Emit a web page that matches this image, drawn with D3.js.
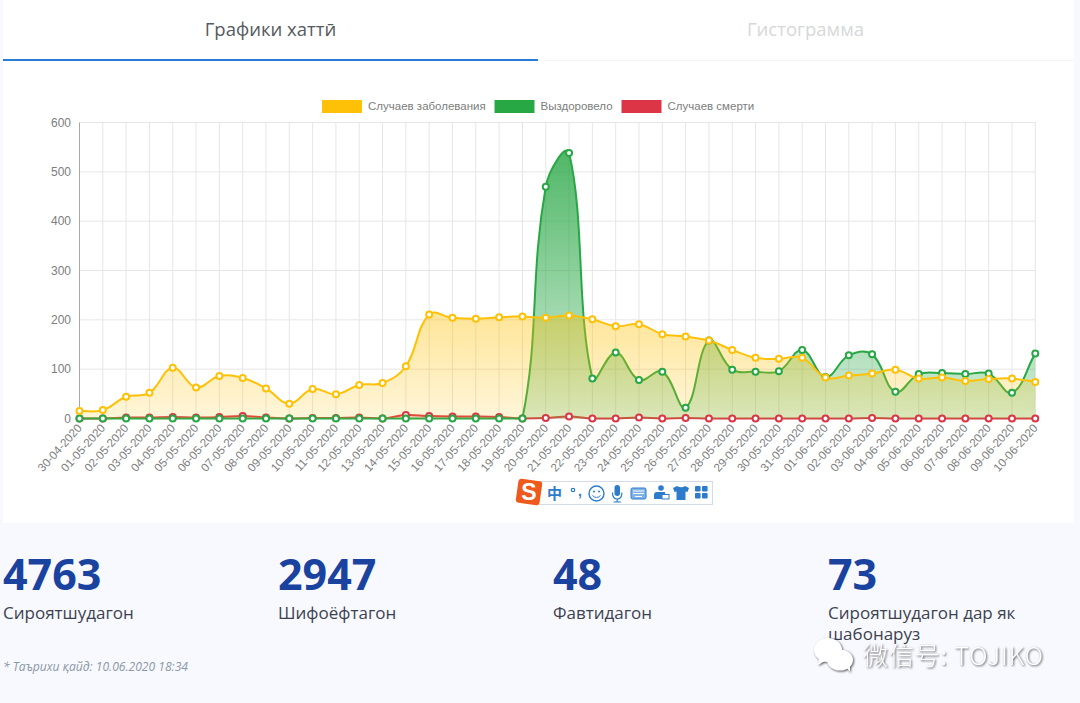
<!DOCTYPE html>
<html>
<head>
<meta charset="utf-8">
<script src="https://cdn.jsdelivr.net/npm/d3@7"></script>
<style>
  html, body { margin: 0; padding: 0; background: #f8f9ff; overflow: hidden; }
  svg { display: block; }
  .ui { font-family: "Open Sans", sans-serif; }
  .chartText { font-family: "Liberation Sans", Arial, sans-serif; fill: #7d7d7d; }
</style>
</head>
<body>
<div id="myGraph"></div>
<script>
var dates = ['30-04-2020','01-05-2020','02-05-2020','03-05-2020','04-05-2020','05-05-2020','06-05-2020',
  '07-05-2020','08-05-2020','09-05-2020','10-05-2020','11-05-2020','12-05-2020','13-05-2020','14-05-2020',
  '15-05-2020','16-05-2020','17-05-2020','18-05-2020','19-05-2020','20-05-2020','21-05-2020','22-05-2020',
  '23-05-2020','24-05-2020','25-05-2020','26-05-2020','27-05-2020','28-05-2020','29-05-2020','30-05-2020',
  '31-05-2020','01-06-2020','02-06-2020','03-06-2020','04-06-2020','05-06-2020','06-06-2020','07-06-2020',
  '08-06-2020','09-06-2020','10-06-2020'];
var cases = [15,17,44,52,103,63,86,82,61,30,60,49,68,72,106,211,204,202,205,207,204,209,201,187,191,171,166,158,139,123,121,123,83,87,91,99,81,83,76,80,81,74];
var recovered = [0,0,0,0,0,0,0,0,0,0,0,0,0,0,0,0,0,0,0,0,470,538,81,134,78,95,22,158,99,95,96,139,84,128,130,54,90,92,90,91,52,132];
var deaths = [0,0,2,2,3,2,3,5,2,0,1,1,2,0,7,5,4,4,3,0,1,4,0,0,2,0,1,0,0,0,0,0,0,0,1,0,0,0,0,0,0,0];
var yTicks = [0,100,200,300,400,500,600];
var legendLabels = ['Случаев заболевания','Выздоровело','Случаев смерти'];
var tabLabels = ['Графики хаттӣ','Гистограмма'];
var statValues = ['4763','2947','48','73'];
var statLabels = [['Сироятшудагон'],['Шифоёфтагон'],['Фавтидагон'],['Сироятшудагон дар як','шабонаруз']];
var footnote = '* Таърихи қайд: 10.06.2020 18:34';

var opts = {
  width: 1080, height: 703,
  left: 79.5, right: 1035.3, top: 122.5, bottom: 418.5
};

var svg = d3.select('#myGraph').append('svg')
  .attr('width', opts.width).attr('height', opts.height)
  .attr('viewBox', '0 0 ' + opts.width + ' ' + opts.height);

var x = d3.scalePoint().domain(dates).range([opts.left, opts.right]);
var y = d3.scaleLinear().domain([0, 600]).range([opts.bottom, opts.top]);

// same spline the original chart used: tension .4, control points kept inside the plot
function splineCurve(minY, maxY) {
  var t = 0.4;
  function Curve(context) { this._context = context; }
  Curve.prototype = {
    areaStart: function() { this._line = 0; },
    areaEnd: function() { this._line = NaN; },
    lineStart: function() { this._pts = []; },
    point: function(a, b) { this._pts.push([+a, +b]); },
    lineEnd: function() {
      var c = this._context, p = this._pts, n = p.length;
      var clampY = function(v) { return Math.max(minY, Math.min(maxY, v)); };
      if (this._line) c.lineTo(p[0][0], p[0][1]); else c.moveTo(p[0][0], p[0][1]);
      var ctrl = p.map(function(cur, i) {
        var prev = p[Math.max(i - 1, 0)], next = p[Math.min(i + 1, n - 1)];
        var d01 = Math.hypot(cur[0] - prev[0], cur[1] - prev[1]);
        var d12 = Math.hypot(next[0] - cur[0], next[1] - cur[1]);
        var s = d01 + d12 || 1;
        var fa = t * d01 / s, fb = t * d12 / s;
        return {
          px: cur[0] - fa * (next[0] - prev[0]), py: clampY(cur[1] - fa * (next[1] - prev[1])),
          nx: cur[0] + fb * (next[0] - prev[0]), ny: clampY(cur[1] + fb * (next[1] - prev[1]))
        };
      });
      for (var i = 1; i < n; i++) {
        c.bezierCurveTo(ctrl[i - 1].nx, ctrl[i - 1].ny, ctrl[i].px, ctrl[i].py, p[i][0], p[i][1]);
      }
      this._line = 1 - this._line;
    }
  };
  return function(context) { return new Curve(context); };
}

// page panels
svg.append('rect').attr('x', 3).attr('y', 0).attr('width', 1071).attr('height', 523).attr('fill', '#fff');

// tabs
svg.append('line').attr('x1', 538).attr('x2', 1074).attr('y1', 60.5).attr('y2', 60.5).attr('stroke', '#f3f5f8');
svg.append('rect').attr('x', 3).attr('y', 59).attr('width', 535).attr('height', 2).attr('fill', '#2a7bd6');
svg.selectAll('text.tab').data(tabLabels).enter().append('text')
  .attr('class', 'tab ui')
  .attr('x', function(d, i) { return i ? 805.5 : 270.5; })
  .attr('y', 35.5)
  .attr('text-anchor', 'middle')
  .attr('font-size', 18.5)
  .attr('fill', function(d, i) { return i ? '#d6d8da' : '#555a60'; })
  .text(function(d) { return d; });

// gradients, the fill fades toward the axis
var defs = svg.append('defs');
function gradient(id, color, a0, a1) {
  var g = defs.append('linearGradient').attr('id', id).attr('gradientUnits', 'userSpaceOnUse')
    .attr('x1', 0).attr('x2', 0).attr('y1', y(600)).attr('y2', y(0));
  g.append('stop').attr('offset', 0).attr('stop-color', color).attr('stop-opacity', a0);
  g.append('stop').attr('offset', 1).attr('stop-color', color).attr('stop-opacity', a1);
}
gradient('gradCases', '#ffc107', 0.9, 0.15);
gradient('gradRecovered', '#28a745', 0.88, 0.2);
gradient('gradDeaths', '#dc3545', 0.9, 0.2);

// grid
var grid = svg.append('g');
grid.selectAll('line.h').data(yTicks).enter().append('line')
  .attr('x1', opts.left).attr('x2', opts.right)
  .attr('y1', function(d) { return y(d); }).attr('y2', function(d) { return y(d); })
  .attr('stroke', '#e6e6e6');
grid.selectAll('line.v').data(dates).enter().append('line')
  .attr('y1', opts.top).attr('y2', opts.bottom)
  .attr('x1', function(d) { return x(d); }).attr('x2', function(d) { return x(d); })
  .attr('stroke', function(d, i) { return i ? '#e6e6e6' : '#a8a8a8'; });

// axis labels
svg.selectAll('text.yLab').data(yTicks).enter().append('text')
  .attr('class', 'chartText')
  .attr('x', 71)
  .attr('y', function(d) { return y(d) + 4; })
  .attr('text-anchor', 'end')
  .attr('font-size', 12)
  .text(function(d) { return d; });
svg.selectAll('text.xLab').data(dates).enter().append('text')
  .attr('class', 'chartText')
  .attr('text-anchor', 'end')
  .attr('font-size', 11.6)
  .attr('transform', function(d) { return 'translate(' + (x(d) + 3) + ',428.5) rotate(-48)'; })
  .text(function(d) { return d; });

// series, last dataset goes first so the cases stay on top
var curve = splineCurve(opts.top, opts.bottom);
var series = [
  { values: deaths, color: '#dc3545', fill: 'url(#gradDeaths)' },
  { values: recovered, color: '#28a745', fill: 'url(#gradRecovered)' },
  { values: cases, color: '#ffc107', fill: 'url(#gradCases)' }
];
var area = d3.area().x(function(d, i) { return x(dates[i]); }).y0(y(0)).y1(function(d) { return y(d); }).curve(curve);
var line = d3.line().x(function(d, i) { return x(dates[i]); }).y(function(d) { return y(d); }).curve(curve);

series.forEach(function(s) {
  var g = svg.append('g');
  g.append('path').attr('d', area(s.values)).attr('fill', s.fill);
  g.append('path').attr('d', line(s.values)).attr('fill', 'none').attr('stroke', s.color).attr('stroke-width', 2);
});
// points are painted after all of the lines, same order
series.forEach(function(s) {
  svg.append('g').selectAll('circle').data(s.values).enter().append('circle')
    .attr('cx', function(d, i) { return x(dates[i]); })
    .attr('cy', function(d) { return y(d); })
    .attr('r', 3)
    .attr('fill', '#fff')
    .attr('stroke', s.color)
    .attr('stroke-width', 2);
});

// legend
var legendColors = ['#ffc107', '#28a745', '#dc3545'];
var legendX = [322, 494.5, 621.5];
var legend = svg.selectAll('g.legend').data(legendLabels).enter().append('g')
  .attr('transform', function(d, i) { return 'translate(' + legendX[i] + ',100)'; });
legend.append('rect').attr('width', 40).attr('height', 13)
  .attr('fill', function(d, i) { return legendColors[i]; });
legend.append('text').attr('class', 'chartText')
  .attr('x', 46).attr('y', 10).attr('font-size', 11.5)
  .text(function(d) { return d; });

// stats row
var statX = [3, 278, 553, 828];
svg.selectAll('text.stat').data(statValues).enter().append('text')
  .attr('class', 'ui')
  .attr('x', function(d, i) { return statX[i]; })
  .attr('y', 589.5)
  .attr('font-size', 43)
  .attr('font-weight', 700)
  .attr('fill', '#1a429f')
  .text(function(d) { return d; });
statLabels.forEach(function(lines, i) {
  lines.forEach(function(txt, k) {
    svg.append('text').attr('class', 'ui')
      .attr('x', statX[i]).attr('y', 619 + k * 21)
      .attr('font-size', 17).attr('fill', '#3c4250')
      .text(txt);
  });
});
svg.append('text').attr('class', 'ui')
  .attr('x', 3).attr('y', 671)
  .attr('font-size', 12.1).attr('font-style', 'italic').attr('fill', '#8b98a5')
  .text(footnote);

// input method toolbar sitting over the screenshot
var ime = svg.append('g').attr('fill', '#2c7ccb');
ime.append('rect').attr('x', 533.5).attr('y', 481.5).attr('width', 179).attr('height', 23)
  .attr('fill', '#fff').attr('stroke', '#d4dbe6');
ime.append('rect').attr('x', 517).attr('y', 480).attr('width', 24).attr('height', 24).attr('rx', 3)
  .attr('fill', '#ee5a1e').attr('transform', 'rotate(8 529 492)');
ime.append('text').attr('x', 529).attr('y', 500).attr('text-anchor', 'middle')
  .attr('font-family', 'Liberation Sans').attr('font-weight', 700).attr('font-size', 23).attr('fill', '#fff').text('S');
ime.append('text').attr('x', 554.5).attr('y', 499).attr('text-anchor', 'middle')
  .attr('font-family', 'Noto Sans CJK SC').attr('font-weight', 700).attr('font-size', 15).text('中');
ime.append('circle').attr('cx', 573).attr('cy', 490).attr('r', 1.7).attr('fill', 'none').attr('stroke', '#2c7ccb').attr('stroke-width', 1.2);
ime.append('text').attr('x', 578).attr('y', 496).attr('font-family', 'Liberation Sans').attr('font-weight', 700).attr('font-size', 14).text(',');
ime.append('circle').attr('cx', 596.5).attr('cy', 493.5).attr('r', 7.5).attr('fill', 'none').attr('stroke', '#2c7ccb').attr('stroke-width', 1.4);
ime.append('circle').attr('cx', 594).attr('cy', 491.5).attr('r', 1);
ime.append('circle').attr('cx', 599).attr('cy', 491.5).attr('r', 1);
ime.append('path').attr('d', 'M592.5 495.5q4 4 8 0').attr('fill', 'none').attr('stroke', '#2c7ccb');
ime.append('rect').attr('x', 614.5).attr('y', 485).attr('width', 5.5).attr('height', 11).attr('rx', 2.7);
ime.append('path').attr('d', 'M612.5 492.5q0 6.5 4.7 6.5t4.7-6.5M617.2 499v3M613.5 502h7.5').attr('fill', 'none').attr('stroke', '#2c7ccb').attr('stroke-width', 1.2);
ime.append('rect').attr('x', 631).attr('y', 488).attr('width', 15).attr('height', 11).attr('rx', 1.5).attr('fill', '#7fb2e5').attr('stroke', '#2c7ccb');
ime.append('path').attr('d', 'M633 491h11M633 493.5h11M635 496.5h7').attr('fill', 'none').attr('stroke', '#fff');
ime.append('circle').attr('cx', 661).attr('cy', 488).attr('r', 2.8);
ime.append('path').attr('d', 'M654 499v-4q0-3 3-3h8v3h-3v4z');
ime.append('rect').attr('x', 662).attr('y', 494.5).attr('width', 7).attr('height', 4.5).attr('fill', 'none').attr('stroke', '#2c7ccb');
ime.append('path').attr('d', 'M677 486l-4 2 1.5 4 2-.6V500h9v-8.600l2 .6 1.500-4-4-2q-3.500 2.500-8 0z');
[[695, 486], [702, 486], [695, 493], [702, 493]].forEach(function(p) {
  ime.append('rect').attr('x', p[0]).attr('y', p[1]).attr('width', 5.6).attr('height', 5.6).attr('rx', 1);
});

// wechat watermark
var mark = svg.append('g').style('filter', 'drop-shadow(1px 1px 1px rgba(0,0,0,.65))').attr('fill', '#fff');
mark.append('ellipse').attr('cx', 828).attr('cy', 650).attr('rx', 14).attr('ry', 12);
mark.append('path').attr('d', 'M819 658l-1 7 7-4z');
mark.append('ellipse').attr('cx', 840).attr('cy', 660).attr('rx', 13).attr('ry', 10.500);
mark.append('path').attr('d', 'M846 667l4 5 0-7z');
mark.append('text').attr('x', 863).attr('y', 664.5)
  .attr('font-family', '"Noto Sans CJK SC", "Noto Sans"')
  .attr('font-size', 25).attr('font-weight', 300).attr('letter-spacing', 0.9)
  .text('微信号: TOJIKO');
</script>
</body>
</html>
